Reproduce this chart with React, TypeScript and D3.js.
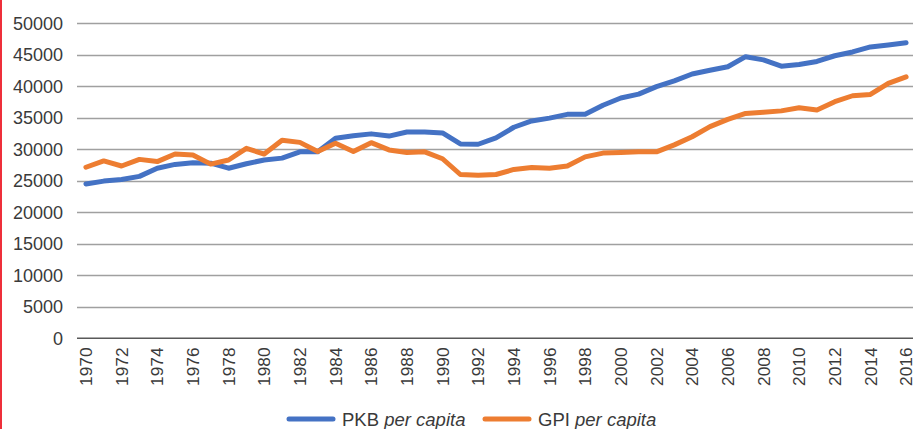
import React from "react";
import * as d3 from "d3";

const years: number[] = d3.range(1970, 2017);
const pkb: number[] = [
  24500, 24950, 25200, 25700, 27000, 27600, 27850, 27800, 27000, 27700,
  28300, 28600, 29600, 29600, 31750, 32150, 32450, 32100, 32750, 32750,
  32600, 30850, 30800, 31800, 33500, 34500, 34950, 35550, 35550, 37000,
  38150, 38750, 39950, 40850, 41950, 42550, 43100, 44700, 44200, 43200,
  43450, 43950, 44850, 45450, 46250, 46550, 46900,
];
const gpi: number[] = [
  27150, 28150, 27350, 28400, 28050, 29250, 29100, 27650, 28300, 30150,
  29250, 31450, 31100, 29650, 30950, 29650, 31050, 29900, 29500, 29600,
  28500, 26000, 25900, 26000, 26800, 27100, 27000, 27350, 28800, 29400,
  29500, 29600, 29600, 30700, 32000, 33600, 34750, 35700, 35870, 36100,
  36600, 36250, 37550, 38500, 38700, 40450, 41500,
];
const yTicks: number[] = d3.range(0, 50001, 5000);
const xTickYears: number[] = d3.range(1970, 2017, 2);
const seriesNames: string[] = ["PKB", "GPI"];
const seriesSuffix = "per capita";
const colors: string[] = ["#4472C4", "#ED7D31"];

const W = 915;
const H = 429;

export default function App() {
  const x = d3
    .scaleBand<number>()
    .domain(years)
    .range([77, 915]);
  const y = d3.scaleLinear().domain([0, 50000]).range([338.3, 23.3]);
  const cx = (yr: number) => (x(yr) as number) + x.bandwidth() / 2;

  const line = d3
    .line<number>()
    .x((_, i) => cx(years[i]))
    .y((d) => y(d));

  const font = "'Liberation Sans', Arial, sans-serif";
  const textColor = "#3a3a3a";

  return (
    <svg
      width={W}
      height={H}
      style={{ position: "absolute", left: 0, top: 0, background: "#fff" }}
      fontFamily={font}
    >
      <rect x={0} y={0} width={W} height={H} fill="#fff" />
      <rect x={0} y={0} width={2} height={H} fill="#EE2F3A" />
      {yTicks.map((t) => (
        <g key={t}>
          {t > 0 && (
            <line
              x1={77}
              x2={913}
              y1={Math.round(y(t)) + 0.5}
              y2={Math.round(y(t)) + 0.5}
              stroke="#A0A0A0"
              strokeWidth={1.3}
            />
          )}
          <text
            x={63}
            y={y(t)}
            dy="0.36em"
            textAnchor="end"
            fontSize={18}
            fill={textColor}
          >
            {t}
          </text>
        </g>
      ))}
      <line
        x1={77}
        x2={913}
        y1={y(0)}
        y2={y(0)}
        stroke="#595959"
        strokeWidth={1.5}
      />
      {xTickYears.map((yr) => (
        <text
          key={yr}
          transform={`translate(${cx(yr)},347.5) rotate(-90)`}
          textAnchor="end"
          dy="0.36em"
          fontSize={17.3}
          fill={textColor}
        >
          {yr}
        </text>
      ))}
      {[pkb, gpi].map((s, i) => (
        <path
          key={i}
          d={line(s) as string}
          fill="none"
          stroke={colors[i]}
          strokeWidth={5}
          strokeLinejoin="round"
          strokeLinecap="round"
        />
      ))}
      {seriesNames.map((n, i) => {
        const lx = i === 0 ? 289 : 485;
        return (
          <g key={n}>
            <line
              x1={lx}
              x2={lx + 44}
              y1={419}
              y2={419}
              stroke={colors[i]}
              strokeWidth={5}
              strokeLinecap="round"
            />
            <text x={lx + 53} y={419} dy="0.36em" fontSize={18.5} fill={textColor}>
              {n} <tspan fontStyle="italic">{seriesSuffix}</tspan>
            </text>
          </g>
        );
      })}
    </svg>
  );
}
